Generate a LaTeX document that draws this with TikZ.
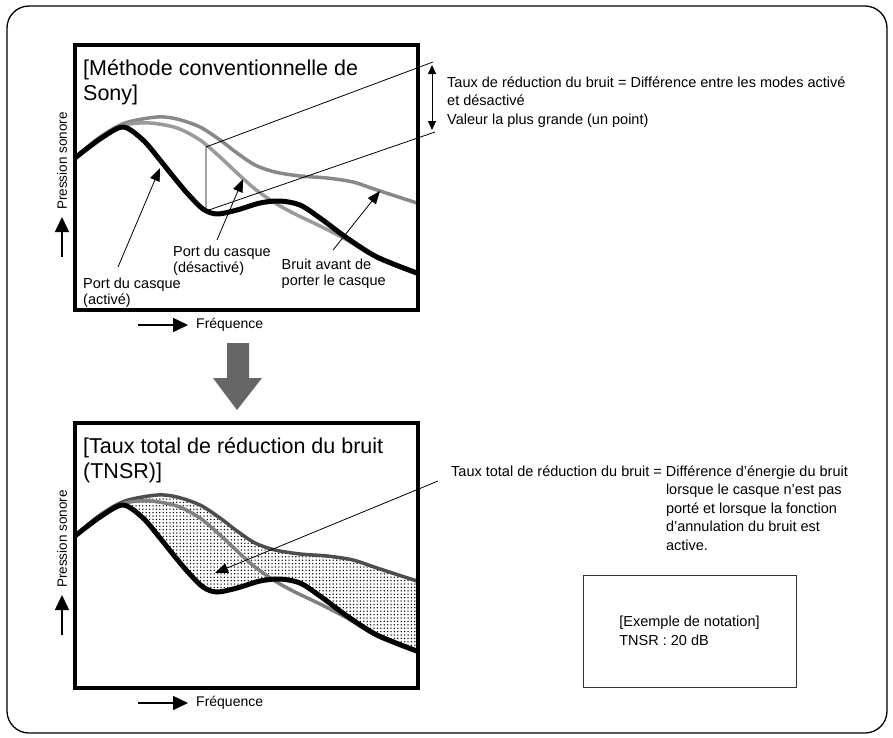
\documentclass[tikz,border=0pt]{standalone}
\usepackage{fontspec}
\setmainfont{Liberation Sans}
\usetikzlibrary{arrows.meta,patterns.meta,positioning}

\definecolor{bruitA}{HTML}{888888}
\definecolor{offA}{HTML}{9A9A9A}
\definecolor{bruitB}{HTML}{4D4D4D}
\definecolor{offB}{HTML}{808080}
\definecolor{bigarrow}{HTML}{666666}

% the three noise curves of a panel
\newcommand{\bruitcurve}[1]{%
  \draw[#1] plot[smooth] coordinates {(75,158) (100,137) (125,123) (157,117) (177,119) (200,127) (220,140) (237,153) (255,165) (275,172) (300,176) (327,178) (353,182) (377,190) (417,203)};}
\newcommand{\offcurve}[1]{%
  \draw[#1] plot[smooth] coordinates {(75,158) (100,137) (125,125) (150,123) (177,128) (200,140) (220,157) (237,173) (255,189) (275,203) (295,214) (320,226) (347,240) (377,258) (417,274)};}
\newcommand{\oncurve}[1]{%
  \draw[#1] plot[smooth] coordinates {(75,158) (100,139) (123,127) (143,140) (160,160) (172,175) (187,193) (203,209) (217,214) (237,210) (260,203) (280,201) (300,205) (320,218) (347,238) (377,257) (417,273)};}

\begin{document}
\begin{tikzpicture}[x=1pt,y=-1pt,
    panel/.style={line width=4pt},
    curve/.style={line width=3.5pt,line join=round},
    active/.style={line width=5pt,line join=round},
    note/.style={font=\fontsize{14.5}{16.5}\selectfont,align=left,anchor=north west,inner sep=0pt},
    heading/.style={font=\fontsize{21.5}{25}\selectfont,align=left,anchor=north west,inner sep=0pt},
    axislabel/.style={font=\fontsize{14}{16}\selectfont,inner sep=0pt},
    axisarrow/.style={-{Triangle[length=15pt,width=14pt]},line width=1.6pt},
    pointer/.style={-{Triangle[length=13pt,width=10pt]},line width=0.8pt},
    guide/.style={line width=0.8pt}]

    \useasboundingbox (0,0) rectangle (893,737);
    \draw[rounded corners=22pt,line width=1.3pt] (7,6) rectangle (887,733);

    % dotted area between the curves of the lower panel
    \fill[pattern={Dots[distance=3.4pt,radius=0.75pt]},shift={(0,378)}]
      plot[smooth] coordinates {(123,124) (157,117) (177,119) (200,127) (220,140) (237,153) (255,165) (275,172) (300,176) (327,178) (353,182) (377,190) (417,203)}
      -- plot[smooth] coordinates {(417,273) (377,257) (347,238) (320,218) (300,205) (280,201) (260,203) (237,210) (217,214) (203,209) (187,193) (172,175) (160,160) (143,140) (123,127)}
      -- cycle;

    % both panels
    \foreach \dy/\topcol/\offcol in {0/bruitA/offA,378/bruitB/offB}{
      \begin{scope}[shift={(0,\dy)}]
        \bruitcurve{draw=\topcol,curve}
        \offcurve{draw=\offcol,curve}
        \oncurve{draw=black,active}
        \draw[panel] (75,45) rectangle (418,310);
        \coordinate (ptail\dy) at (62,257);
        \coordinate (phead\dy) at (62,217);
        \draw[axisarrow] (ptail\dy) -- (phead\dy);
        \node[axislabel,font=\fontsize{13.5}{16}\selectfont,rotate=90,anchor=west] (press\dy) at ([yshift=7pt]phead\dy) {Pression sonore};
        \coordinate (ftail\dy) at (138,325);
        \coordinate (fhead\dy) at (188,325);
        \draw[axisarrow] (ftail\dy) -- (fhead\dy);
        \node[axislabel,right=8pt of fhead\dy] (freq\dy) {Fréquence};
      \end{scope}
    }

    % upper panel
    \node[heading] (sonyhead) at (83,59.5) {[Méthode conventionnelle de\\Sony]};
    \node[note] (activ) at (83,277.3) {Port du casque\\(activé)};
    \node[note] (desact) at (173,245.3) {Port du casque\\(désactivé)};
    \node[note] (avant) at (281.5,258.3) {Bruit avant de\\porter le casque};
    \coordinate (activfoot) at (118,267);
    \coordinate (activtip) at (160,168);
    \coordinate (desactfoot) at (217,240);
    \coordinate (desacttip) at (243,179);
    \coordinate (avantfoot) at (333,250);
    \coordinate (avanttip) at (380,191);
    \draw[pointer] (activfoot) -- (activtip);
    \draw[pointer] (desactfoot) -- (desacttip);
    \draw[pointer] (avantfoot) -- (avanttip);

    \coordinate (gtop) at (206,147);
    \coordinate (gbot) at (206,211);
    \coordinate (gtopr) at (433,62);
    \coordinate (gbotr) at (435,132);
    \draw[guide] (gtopr) -- (gtop) -- (gbot) -- (gbotr);
    \coordinate (dtop) at (432,65);
    \coordinate (dbot) at (432,130);
    \draw[{Triangle[length=9pt,width=8pt]}-{Triangle[length=9pt,width=8pt]},line width=1pt] (dtop) -- (dbot);
    \node[note,font=\fontsize{14.5}{18.5}\selectfont] (rate) at (447,76.3)
      {Taux de réduction du bruit = Différence entre les modes activé\\et désactivé\\Valeur la plus grande (un point)};

    \fill[bigarrow] (227,343) -- (249,343) -- (249,378) -- (262,378) -- (237,410) -- (213,378) -- (227,378) -- cycle;

    % lower panel
    \node[heading] (tnsrhead) at (83,437.5) {[Taux total de réduction du bruit\\(TNSR)]};
    \node[note,font=\fontsize{14.5}{18.5}\selectfont] (tnsr) at (451,463)
      {\begin{tabular}{@{}l@{\ }l@{}}
        Taux total de réduction du bruit = & Différence d’énergie du bruit\\
        & lorsque le casque n’est pas\\
        & porté et lorsque la fonction\\
        & d’annulation du bruit est\\
        & active.
      \end{tabular}};
    \coordinate (tnsrfoot) at (438,481);
    \coordinate (tnsrtip) at (215,573);
    \draw[pointer] (tnsrfoot) -- (tnsrtip);

    \node[draw=black!80,line width=1pt,minimum width=213pt,minimum height=112pt,align=left,
      font=\fontsize{14.5}{19}\selectfont] (notation) at (689.5,631) {[Exemple de notation]\\TNSR : 20 dB};
\end{tikzpicture}
\end{document}
